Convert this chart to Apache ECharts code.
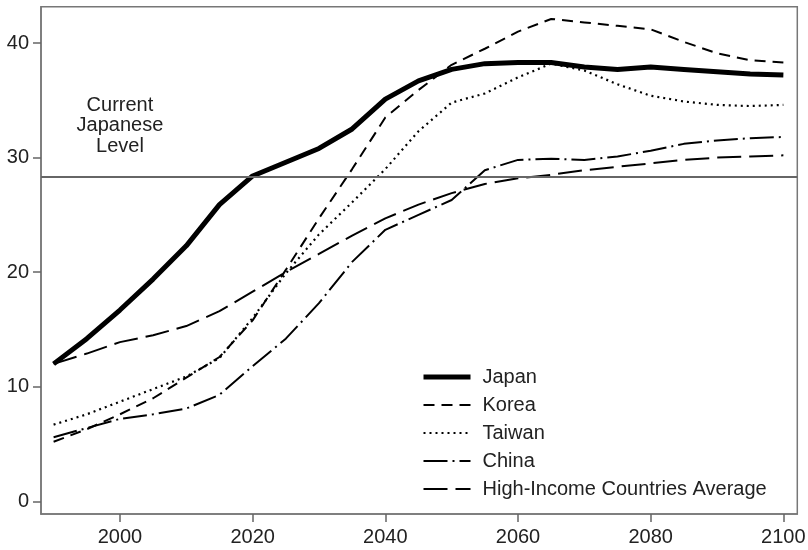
<!DOCTYPE html>
<html>
<head>
<meta charset="utf-8">
<script src="https://cdn.jsdelivr.net/npm/echarts@6/dist/echarts.min.js"></script>
<style>
  html, body { margin: 0; padding: 0; background: #fff; }
  #chart { width: 808px; height: 550px; }
</style>
</head>
<body>
<div id="chart"></div>
<script>
var years = [1990, 1995, 2000, 2005, 2010, 2015, 2020, 2025, 2030, 2035, 2040, 2045,
             2050, 2055, 2060, 2065, 2070, 2075, 2080, 2085, 2090, 2095, 2100];

var japan  = [12.0, 14.2, 16.7, 19.4, 22.3, 25.9, 28.4, 29.6, 30.8, 32.5, 35.1, 36.7,
              37.7, 38.2, 38.3, 38.3, 37.9, 37.7, 37.9, 37.7, 37.5, 37.3, 37.2];
var korea  = [5.2, 6.3, 7.6, 9.0, 10.8, 12.6, 15.8, 20.2, 24.7, 29.0, 33.5, 35.9,
              38.1, 39.5, 41.0, 42.1, 41.8, 41.5, 41.2, 40.1, 39.1, 38.5, 38.3];
var taiwan = [6.7, 7.6, 8.7, 9.8, 10.9, 12.5, 16.0, 19.9, 23.3, 26.1, 29.0, 32.3,
              34.8, 35.6, 37.0, 38.2, 37.6, 36.4, 35.4, 34.9, 34.6, 34.5, 34.6];
var china  = [5.6, 6.4, 7.2, 7.6, 8.1, 9.3, 11.8, 14.2, 17.3, 20.9, 23.7, 25.0,
              26.3, 28.9, 29.8, 29.9, 29.8, 30.1, 30.6, 31.2, 31.5, 31.7, 31.8];
var highIncome = [12.0, 12.9, 13.9, 14.5, 15.3, 16.6, 18.3, 20.0, 21.6, 23.2, 24.7, 25.9,
                  26.9, 27.7, 28.2, 28.5, 28.9, 29.2, 29.5, 29.8, 30.0, 30.1, 30.2];

var currentJapanLevel = 28.36;
var xTicks = [2000, 2020, 2040, 2060, 2080, 2100];
var yTicks = [0, 10, 20, 30, 40];

function pairs(vals) {
    var out = [];
    for (var i = 0; i < years.length; i++) {
        out.push([years[i], vals[i]]);
    }
    return out;
}

// one style per country: width and dash pattern
var styles = {
    'Japan': { width: 5, type: 'solid' },
    'Korea': { width: 2, type: [11, 7] },
    'Taiwan': { width: 2.2, type: [2, 4] },
    'China': { width: 2, type: [24, 5, 2, 5] },
    'High-Income Countries Average': { width: 2, type: [24, 8] }
};

function makeSeries(name, vals) {
    return {
        name: name,
        type: 'line',
        data: pairs(vals),
        showSymbol: false,
        symbol: 'none',
        silent: true,
        animation: false,
        lineStyle: { color: '#000', width: styles[name].width, type: styles[name].type, cap: 'butt' },
        itemStyle: { color: '#000' }
    };
}

var chart = echarts.init(document.getElementById('chart'));

var series = [
    makeSeries('Japan', japan),
    makeSeries('Korea', korea),
    makeSeries('Taiwan', taiwan),
    makeSeries('China', china),
    makeSeries('High-Income Countries Average', highIncome)
];

series[0].markLine = {
    silent: true,
    symbol: 'none',
    label: { show: false },
    lineStyle: { color: '#666', width: 2, type: 'solid' },
    data: [{ yAxis: currentJapanLevel }]
};
series[0].markPoint = {
    silent: true,
    symbol: 'circle',
    symbolSize: 0,
    label: {
        show: true,
        position: 'inside',
        formatter: 'Current\nJapanese\nLevel',
        fontFamily: 'Liberation Sans',
        fontSize: 20,
        lineHeight: 20.5,
        color: '#222',
        align: 'center'
    },
    data: [{ coord: [2000, 32.8] }]
};

var legendData = [];
for (var name in styles) {
    legendData.push({
        name: name,
        itemStyle: { opacity: 0 },
        lineStyle: { width: styles[name].width, type: styles[name].type, color: '#000', cap: 'butt' }
    });
}

function plainNum(v) {
    return String(v);
}

var option = {
    animation: false,
    backgroundColor: '#fff',
    textStyle: { fontFamily: 'Liberation Sans' },
    grid: {
        left: 41, right: 10.7, top: 6.7, bottom: 36,
        show: true,
        borderColor: '#777',
        borderWidth: 1.5,
        containLabel: false,
        outerBoundsMode: 'none'
    },
    legend: {
        orient: 'vertical',
        left: 416,
        top: 362,
        itemWidth: 47,
        itemHeight: 14,
        itemGap: 8,
        selectedMode: false,
        itemStyle: { opacity: 0 },
        textStyle: { fontSize: 20, lineHeight: 20, color: '#222', padding: [0, 0, 0, 7] },
        data: legendData
    },
    xAxis: {
        type: 'value',
        min: 1988.1,
        max: 2102.1,
        splitLine: { show: false },
        axisLine: { show: true, onZero: false, lineStyle: { color: '#777', width: 1.5 } },
        axisTick: { show: true, length: 8, customValues: xTicks, lineStyle: { color: '#666', width: 1.5 } },
        axisLabel: { customValues: xTicks, formatter: plainNum, margin: 13, fontSize: 20, color: '#222', fontFamily: 'Liberation Sans' }
    },
    yAxis: {
        type: 'value',
        min: -1.1,
        max: 43.17,
        splitLine: { show: false },
        axisLine: { show: true, onZero: false, lineStyle: { color: '#777', width: 1.5 } },
        axisTick: { show: true, length: 8, customValues: yTicks, lineStyle: { color: '#666', width: 1.5 } },
        axisLabel: { customValues: yTicks, formatter: plainNum, margin: 12, fontSize: 20, color: '#222', fontFamily: 'Liberation Sans' }
    },
    series: series
};

chart.setOption(option);
</script>
</body>
</html>
